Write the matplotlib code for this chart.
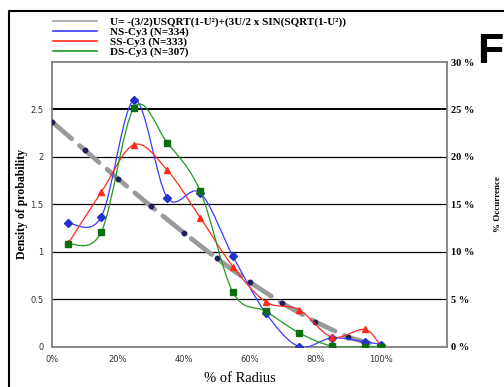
import numpy as np
import matplotlib
matplotlib.use('Agg')
import matplotlib.pyplot as plt
from matplotlib.path import Path
from matplotlib.patches import PathPatch
from matplotlib.lines import Line2D

# %% Data (% of radius vs density of probability)

x_model = [0, 10, 20, 30, 40, 50, 60, 70, 80, 90, 100]
y_model = [2.37, 2.07, 1.77, 1.48, 1.20, 0.93, 0.68, 0.455, 0.26, 0.097, 0.0]

x_bins = [5, 15, 25, 35, 45, 55, 65, 75, 85, 95, 100]
ns_cy3 = [1.30, 1.37, 2.60, 1.57, 1.62, 0.95, 0.35, 0.0, 0.09, 0.05, 0.02]
ss_cy3 = [1.09, 1.63, 2.13, 1.86, 1.36, 0.84, 0.47, 0.39, 0.10, 0.18, 0.0]
ds_cy3 = [1.08, 1.21, 2.52, 2.15, 1.64, 0.57, 0.37, 0.145, 0.005, 0.0, 0.0]

x_ticks = [0, 20, 40, 60, 80, 100]
x_ticklabels = ['0%', '20%', '40%', '60%', '80%', '100%']
y_ticks = [0, 0.5, 1, 1.5, 2, 2.5]
y_ticklabels = ['0', '0.5', '1', '1.5', '2', '2.5']
occ_ticks = [0, 5, 10, 15, 20, 25, 30]
occ_ticklabels = ['0 %', '5 %', '10 %', '15 %', '20 %', '25 %', '30 %']

labels = ['U= -(3/2)USQRT(1-U²)+(3U/2 x SIN(SQRT(1-U²))',
          'NS-Cy3 (N=334)', 'SS-Cy3 (N=333)', 'DS-Cy3 (N=307)']


def smooth_path(xs, ys):
    # Catmull-Rom style bezier through the points (like spreadsheet smoothed lines)
    pts = np.column_stack([xs, ys]).astype(float)
    n = len(pts)
    verts = [pts[0]]
    codes = [Path.MOVETO]
    for i in range(n - 1):
        p0 = pts[max(i - 1, 0)]
        p1 = pts[i]
        p2 = pts[i + 1]
        p3 = pts[min(i + 2, n - 1)]
        c1 = p1 + (p2 - p0) / 6.0
        c2 = p2 - (p3 - p1) / 6.0
        verts += [c1, c2, p2]
        codes += [Path.CURVE4] * 3
    return Path(verts, codes)


serif = 'Liberation Serif'
sans = 'DejaVu Sans'

fig = plt.figure(figsize=(5.04, 3.87), dpi=100)
ax = fig.add_axes([52 / 504, 1 - 346.5 / 387, 395 / 504, 284.5 / 387])

ax.set_xlim(0, 120)
ax.set_ylim(0, 3.0)

# grid lines
for yv in [0.5, 1, 1.5, 2]:
    ax.axhline(yv, color='black', lw=0.9, zorder=1)
ax.axhline(2.5, color='black', lw=1.4, zorder=1)

# model curve
ax.plot(x_model, y_model, color='#9a9a9a', lw=3.4, dashes=(5.5, 2.2),
        dash_capstyle='round', zorder=2)
ax.plot(x_model, y_model, ls='none', marker='o', ms=3.2,
        color='#1c1f5a', zorder=3)

series = [(ns_cy3, '#3a3aff', '#2233cc', 'D'),
          (ss_cy3, '#ff2a1a', '#ff2a1a', '^'),
          (ds_cy3, '#1e9a1e', '#0a6e0a', 's')]
for vals, lc, mc, mk in series:
    ax.add_patch(PathPatch(smooth_path(x_bins, vals), fill=False,
                           edgecolor=lc, lw=0.9, zorder=4))
    ax.plot(x_bins, vals, ls='none', marker=mk, ms=4, color=mc, zorder=5)

for s in ax.spines.values():
    s.set_color('#808080')
    s.set_linewidth(1.3)

ax.set_xticks(x_ticks)
ax.set_xticklabels(x_ticklabels, fontsize=6, color='#333333', family=sans)
ax.set_yticks(y_ticks)
ax.set_yticklabels(y_ticklabels, fontsize=6, color='#333333', family=sans)
ax.tick_params(length=0, pad=6)

ax.set_ylabel('Density of probability', family=serif, weight='bold', fontsize=8.5)
ax.yaxis.set_label_coords(-0.06, 0.5)
ax.set_xlabel('% of Radius', family=serif, fontsize=10.5)
ax.xaxis.set_label_coords(0.475, -0.09)

ax2 = ax.twinx()
ax2.set_ylim(0, 30)
ax2.set_yticks(occ_ticks)
ax2.set_yticklabels(occ_ticklabels, family=serif, weight='bold', fontsize=7.5)
ax2.tick_params(length=0, pad=3)
for s in ax2.spines.values():
    s.set_visible(False)
ax2.set_ylabel('% Occurrence', family=serif, weight='bold', fontsize=6.5)
ax2.yaxis.set_label_coords(1.12, 0.5)

# legend
handles = [Line2D([], [], color='#a0a0a0', lw=1.2),
           Line2D([], [], color='#3a3aff', lw=1.2),
           Line2D([], [], color='#ff2a1a', lw=1.2),
           Line2D([], [], color='#1e9a1e', lw=1.2)]
fig.legend(handles, labels, loc='upper left', bbox_to_anchor=(53 / 504, 1 - 17 / 387),
           frameon=False, borderpad=0, borderaxespad=0, handlelength=4.0,
           handletextpad=1.1, labelspacing=0.0,
           prop={'family': serif, 'weight': 'bold', 'size': 8})

# panel letter and frame
fig.text(477 / 504, 1 - 63 / 387, 'F', fontsize=31, weight='bold',
         family='Liberation Sans', ha='left', va='baseline')
fig.add_artist(Line2D([9 / 504, 9 / 504, 1.0], [0.0, 1 - 11 / 387, 1 - 11 / 387],
                      color='black', lw=1.5))

fig.savefig('out.png', dpi=100)
